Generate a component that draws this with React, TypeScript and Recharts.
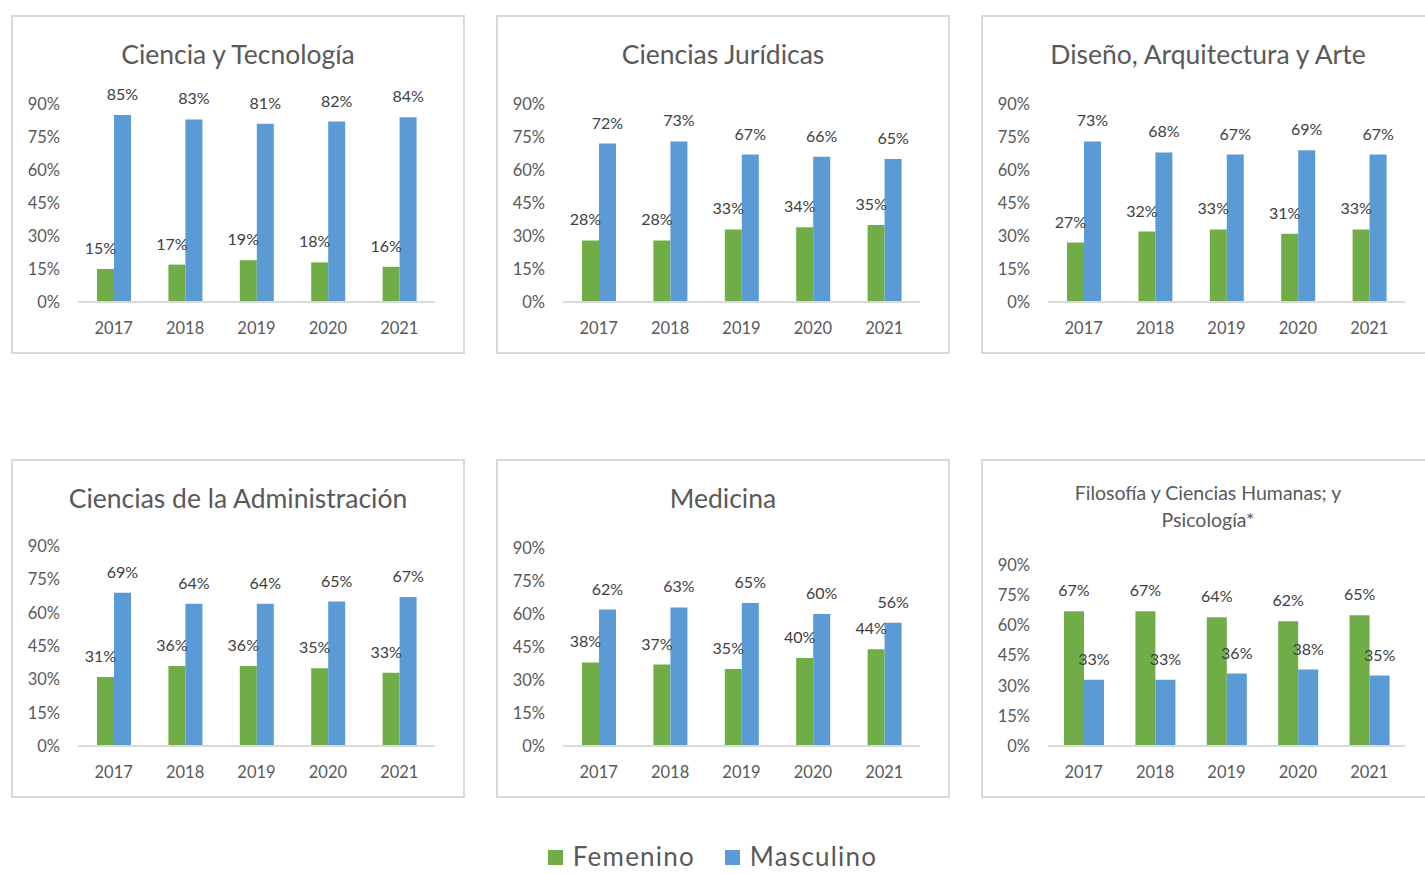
import React from "react";
import { BarChart, Bar, XAxis, YAxis, LabelList } from "recharts";

const years = ["2017", "2018", "2019", "2020", "2021"];
const yTicks = [0, 15, 30, 45, 60, 75, 90];

// Femenino / Masculino por área (%)
const tecFem = [15, 17, 19, 18, 16];
const tecMas = [85, 83, 81, 82, 84];
const jurFem = [28, 28, 33, 34, 35];
const jurMas = [72, 73, 67, 66, 65];
const disFem = [27, 32, 33, 31, 33];
const disMas = [73, 68, 67, 69, 67];
const admFem = [31, 36, 36, 35, 33];
const admMas = [69, 64, 64, 65, 67];
const medFem = [38, 37, 35, 40, 44];
const medMas = [62, 63, 65, 60, 56];
const filFem = [67, 67, 64, 62, 65];
const filMas = [33, 33, 36, 38, 35];

const GREEN = "#70AD47";
const BLUE = "#5B9BD5";
const TEXT = "#595959";
const FONT = "Lato, 'Open Sans', sans-serif";

const PW = 454;
const PH = 339;

const toRows = (fem: number[], mas: number[]) =>
    years.map((y, i) => ({ year: y, fem: fem[i], mas: mas[i] }));

const panels = [
    { title: ["Ciencia y Tecnología"], left: 11, top: 15, fem: tecFem, mas: tecMas, plotTop: 89, bar: 17, dx: -5 },
    { title: ["Ciencias Jurídicas"], left: 496, top: 15, fem: jurFem, mas: jurMas, plotTop: 89, bar: 17, dx: -5 },
    { title: ["Diseño, Arquitectura y Arte"], left: 981, top: 15, fem: disFem, mas: disMas, plotTop: 89, bar: 17, dx: -5 },
    { title: ["Ciencias de la Administración"], left: 11, top: 459, fem: admFem, mas: admMas, plotTop: 87, bar: 17, dx: -5 },
    { title: ["Medicina"], left: 496, top: 459, fem: medFem, mas: medMas, plotTop: 89, bar: 17, dx: -5 },
    { title: ["Filosofía y Ciencias Humanas; y", "Psicología*"], left: 981, top: 459, fem: filFem, mas: filMas, plotTop: 106, bar: 20, dx: 0 },
];

const Panel = ({ p }: { p: typeof panels[number] }) => {
    const small = p.title.length > 1;
    return (
        <div style={{ position: "absolute", left: p.left, top: p.top, width: PW, height: PH, background: "#fff" }}>
            <div style={{ position: "absolute", inset: 0, border: "2px solid #D9D9D9", boxSizing: "border-box" }} />
            <div
                style={{
                    position: "absolute",
                    left: 0,
                    width: PW,
                    top: small ? 20 : 23,
                    textAlign: "center",
                    fontFamily: FONT,
                    color: TEXT,
                    fontSize: small ? 19.5 : 26.5,
                    lineHeight: small ? "27px" : "32px",
                }}
            >
                {p.title.map((t) => (
                    <div key={t}>{t}</div>
                ))}
            </div>
            <div style={{ position: "absolute", left: 0, top: 0 }}>
                <BarChart
                    width={PW}
                    height={PH}
                    data={toRows(p.fem, p.mas)}
                    margin={{ top: p.plotTop, right: 30, left: 0, bottom: 12 }}
                    barGap={0}
                >
                    <XAxis
                        dataKey="year"
                        height={40}
                        tickLine={false}
                        tickSize={0}
                        tickMargin={20}
                        axisLine={{ stroke: "#D9D9D9", strokeWidth: 2 }}
                        tick={{ fill: TEXT, fontSize: 16.5, fontFamily: FONT }}
                    />
                    <YAxis
                        width={67}
                        domain={[0, 90]}
                        ticks={yTicks}
                        interval={0}
                        axisLine={false}
                        tickLine={false}
                        tickSize={0}
                        tickMargin={18}
                        tickFormatter={(v) => `${v}%`}
                        tick={{ fill: TEXT, fontSize: 16.5, fontFamily: FONT }}
                    />
                    <Bar dataKey="fem" fill={GREEN} barSize={p.bar} isAnimationActive={false}>
                        <LabelList
                            dataKey="fem"
                            position="top"
                            offset={15}
                            dx={p.dx}
                            formatter={(v: any) => `${v}%`}
                            style={{ fill: "#404040", fontSize: 16, fontFamily: FONT }}
                        />
                    </Bar>
                    <Bar dataKey="mas" fill={BLUE} barSize={p.bar} isAnimationActive={false}>
                        <LabelList
                            dataKey="mas"
                            position="top"
                            offset={15}
                            formatter={(v: any) => `${v}%`}
                            style={{ fill: "#404040", fontSize: 16, fontFamily: FONT }}
                        />
                    </Bar>
                </BarChart>
            </div>
        </div>
    );
};

const App = () => {
    return (
        <div style={{ position: "absolute", left: 0, top: 0, width: 1425, height: 874, overflow: "hidden", background: "#fff" }}>
            {panels.map((p) => (
                <Panel key={p.title[0]} p={p} />
            ))}
            <div
                style={{
                    position: "absolute",
                    top: 843,
                    left: 0,
                    width: 1425,
                    display: "flex",
                    justifyContent: "center",
                    alignItems: "center",
                    fontFamily: FONT,
                    fontSize: 26,
                    color: TEXT,
                    lineHeight: "26px",
                }}
            >
                <span style={{ display: "inline-block", width: 15, height: 15, background: GREEN, marginRight: 10, marginTop: 3 }} />
                <span style={{ marginRight: 30, letterSpacing: 1.2 }}>Femenino</span>
                <span style={{ display: "inline-block", width: 15, height: 15, background: BLUE, marginRight: 10, marginTop: 3 }} />
                <span style={{ letterSpacing: 1.2 }}>Masculino</span>
            </div>
        </div>
    );
};

export default App;
